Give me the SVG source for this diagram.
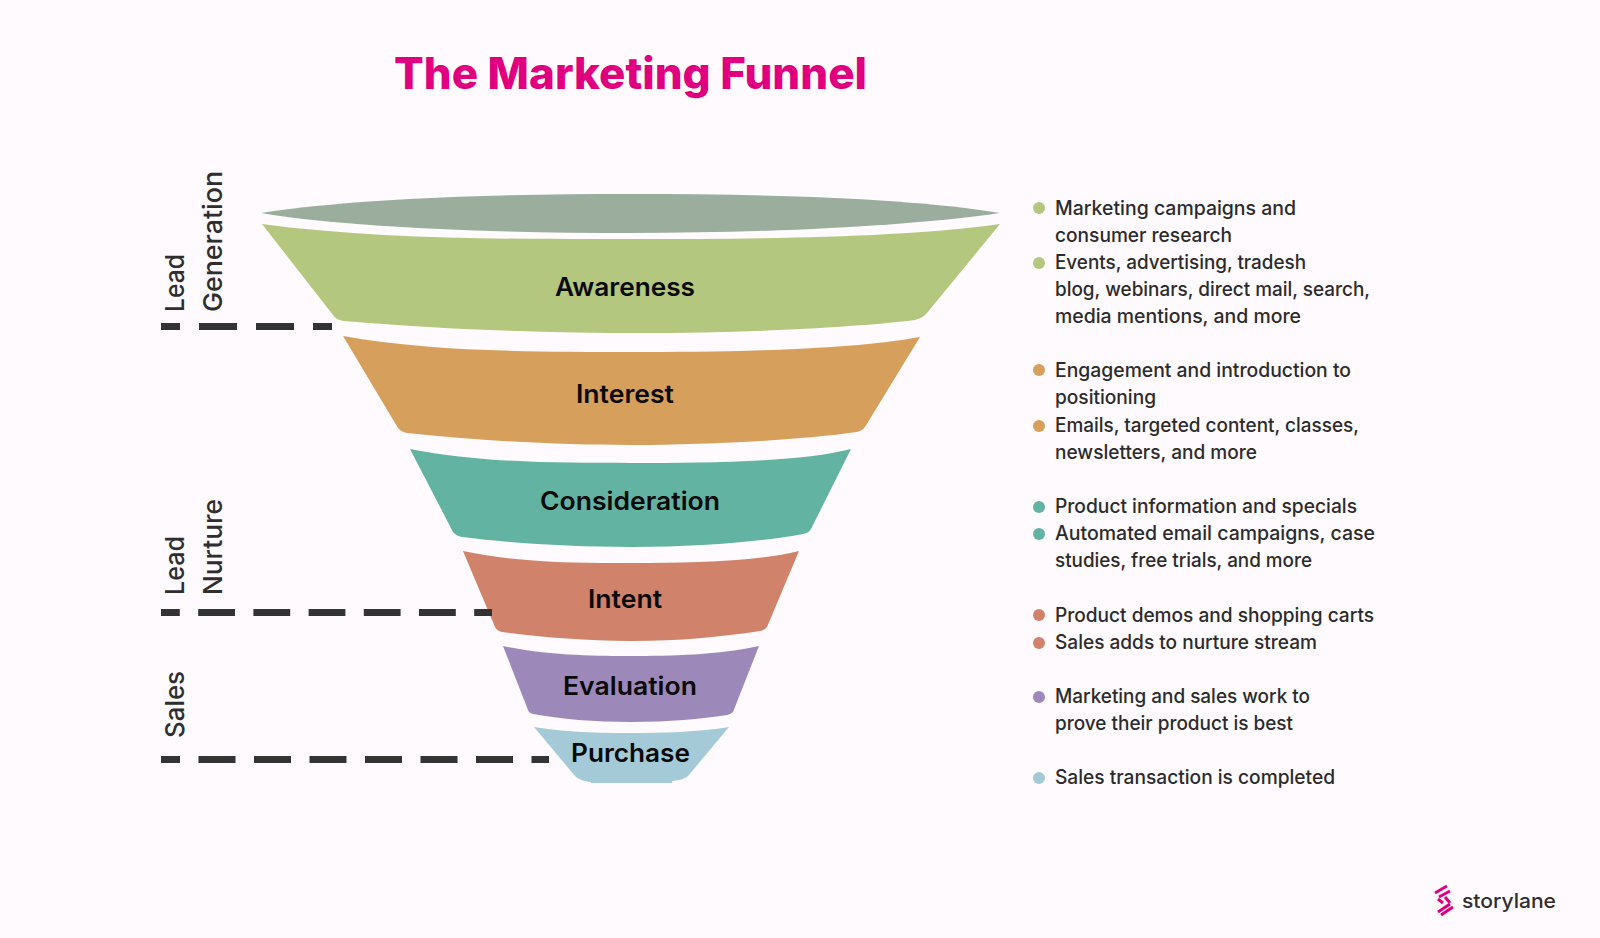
<svg xmlns="http://www.w3.org/2000/svg" width="1600" height="938" viewBox="0 0 1600 938">
<style>
text{font-family:"Inter","Noto Sans","Liberation Sans",sans-serif}
.stage{font-size:25px;font-weight:600;fill:#0a0a0a;text-anchor:start}
.side{font-size:26px;font-weight:500;fill:#2e2e2e}
.note{font-size:19.5px;font-weight:500;fill:#2b2b2b}
.dash{fill:none;stroke:#333;stroke-width:7}
.green{fill:#b3c77f}.orange{fill:#d69f5b}.teal{fill:#62b3a2}.salmon{fill:#d0826a}.purple{fill:#9c88b9}.blue{fill:#a3cad6}
.logo{fill:none;stroke:#e0007f;stroke-width:3}
</style>
<rect width="1600" height="938" fill="#fefafe"/>
<text id="title" x="394" y="89" font-size="44" font-weight="800" fill="#e0007f" textLength="473" lengthAdjust="spacingAndGlyphs">The Marketing Funnel</text>

<g id="funnel-rim"><path d="M261,213 C360,198 500,194 631,194 C770,194 910,198 1000,213 C910,226 770,233 631,233 C500,233 350,228 261,213 Z" fill="#9bad9d"/></g>

<g id="awareness"><path class="green" d="M262,224 C380,240 520,239 631,239 C760,239 900,238 1000,224 L927,313 Q923,318 915,320 C850,328 740,333 640,333 C550,333 450,330 344,321 Q336,320 333,315 Z"/>
<text class="stage" x="555" y="296" textLength="140" lengthAdjust="spacingAndGlyphs">Awareness</text></g>

<g id="interest"><path class="orange" d="M343,336 C430,352 540,352 631,352 C730,352 850,350 920,337 L865,427 Q862,431 857,432 C800,440 710,445 631,445 C560,445 480,441 407,433 Q401,432 398,428 Z"/>
<text class="stage" x="576" y="403" textLength="98" lengthAdjust="spacingAndGlyphs">Interest</text></g>

<g id="consideration"><path class="teal" d="M410,449 C480,463 560,463 631,463 C710,463 800,462 851,449 L811,529 Q809,533 803,534 C760,542 700,547 631,547 C570,547 510,543 462,537 Q456,536 453,532 Z"/>
<text class="stage" x="540" y="510" textLength="180" lengthAdjust="spacingAndGlyphs">Consideration</text></g>

<g id="intent"><path class="salmon" d="M463,551 C520,563 580,563 631,563 C690,563 755,562 799,551 L767,627 Q765,630 760,631 C720,637 680,641 631,641 C585,641 540,637 502,632 Q497,631 495,627 Z"/>
<text class="stage" x="588" y="608" textLength="74" lengthAdjust="spacingAndGlyphs">Intent</text></g>

<g id="evaluation"><path class="purple" d="M503,646 C550,656 600,656 631,656 C670,656 720,655 759,646 L733,712 Q731,714 727,715 C700,719 670,722 631,722 C595,722 560,719 533,714 Q529,713 528,710 Z"/>
<text class="stage" x="563" y="695" textLength="134" lengthAdjust="spacingAndGlyphs">Evaluation</text></g>

<g id="purchase"><path class="blue" d="M534,727 C570,733 610,733 631,733 C660,733 700,732 729,727 L688,776 Q684,780 672,781 L672,783 L591,783 L591,782 Q580,781 575,776 Z"/>
<text class="stage" x="571" y="762" textLength="119" lengthAdjust="spacingAndGlyphs">Purchase</text></g>

<g id="connectors">
<line class="dash" x1="161" y1="326.5" x2="332" y2="326.5" stroke-dasharray="38 19" stroke-dashoffset="19"/>
<line class="dash" x1="161" y1="612.5" x2="492" y2="612.5" stroke-dasharray="36.8 18.4" stroke-dashoffset="18"/>
<line class="dash" x1="161" y1="759.5" x2="549" y2="759.5" stroke-dasharray="37 18.5" stroke-dashoffset="18"/>
</g>

<g id="side-labels">
<text class="side" transform="translate(184 312) rotate(-90)" textLength="58" lengthAdjust="spacingAndGlyphs">Lead</text>
<text class="side" transform="translate(222 312) rotate(-90)" textLength="141" lengthAdjust="spacingAndGlyphs">Generation</text>
<text class="side" transform="translate(184 595) rotate(-90)" textLength="59" lengthAdjust="spacingAndGlyphs">Lead</text>
<text class="side" transform="translate(222 595) rotate(-90)" textLength="96" lengthAdjust="spacingAndGlyphs">Nurture</text>
<text class="side" transform="translate(184 738) rotate(-90)" textLength="67" lengthAdjust="spacingAndGlyphs">Sales</text>
</g>

<g id="notes-awareness">
<circle class="green" cx="1039" cy="208" r="6"/><circle class="green" cx="1039" cy="263" r="6"/>
<text class="note" x="1055" y="215" textLength="241" lengthAdjust="spacingAndGlyphs">Marketing campaigns and</text>
<text class="note" x="1055" y="242" textLength="177" lengthAdjust="spacingAndGlyphs">consumer research</text>
<text class="note" x="1055" y="269" textLength="251" lengthAdjust="spacingAndGlyphs">Events, advertising, tradesh</text>
<text class="note" x="1055" y="296" textLength="315" lengthAdjust="spacingAndGlyphs">blog, webinars, direct mail, search,</text>
<text class="note" x="1055" y="323" textLength="246" lengthAdjust="spacingAndGlyphs">media mentions, and more</text>
</g>
<g id="notes-interest">
<circle class="orange" cx="1039" cy="370" r="6"/><circle class="orange" cx="1039" cy="426" r="6"/>
<text class="note" x="1055" y="377" textLength="296" lengthAdjust="spacingAndGlyphs">Engagement and introduction to</text>
<text class="note" x="1055" y="404" textLength="101" lengthAdjust="spacingAndGlyphs">positioning</text>
<text class="note" x="1055" y="432" textLength="304" lengthAdjust="spacingAndGlyphs">Emails, targeted content, classes,</text>
<text class="note" x="1055" y="459" textLength="202" lengthAdjust="spacingAndGlyphs">newsletters, and more</text>
</g>
<g id="notes-consideration">
<circle class="teal" cx="1039" cy="507" r="6"/><circle class="teal" cx="1039" cy="534" r="6"/>
<text class="note" x="1055" y="513" textLength="302" lengthAdjust="spacingAndGlyphs">Product information and specials</text>
<text class="note" x="1055" y="540" textLength="320" lengthAdjust="spacingAndGlyphs">Automated email campaigns, case</text>
<text class="note" x="1055" y="567" textLength="257" lengthAdjust="spacingAndGlyphs">studies, free trials, and more</text>
</g>
<g id="notes-intent">
<circle class="salmon" cx="1039" cy="615" r="6"/><circle class="salmon" cx="1039" cy="643" r="6"/>
<text class="note" x="1055" y="622" textLength="319" lengthAdjust="spacingAndGlyphs">Product demos and shopping carts</text>
<text class="note" x="1055" y="649" textLength="262" lengthAdjust="spacingAndGlyphs">Sales adds to nurture stream</text>
</g>
<g id="notes-evaluation">
<circle class="purple" cx="1039" cy="697" r="6"/>
<text class="note" x="1055" y="703" textLength="255" lengthAdjust="spacingAndGlyphs">Marketing and sales work to</text>
<text class="note" x="1055" y="730" textLength="238" lengthAdjust="spacingAndGlyphs">prove their product is best</text>
</g>
<g id="notes-purchase">
<circle class="blue" cx="1039" cy="778" r="6"/>
<text class="note" x="1055" y="784" textLength="280" lengthAdjust="spacingAndGlyphs">Sales transaction is completed</text>
</g>

<g id="logo">
<path class="logo" d="M1435,893 L1447,886 M1439,897 L1450,891 M1438,899 L1443,903 M1445,897 L1450,903 M1438,912 L1450,904 M1441,915 L1453,907"/>
<text x="1462" y="908" font-size="20" font-weight="500" fill="#2e2e2e" textLength="94" lengthAdjust="spacingAndGlyphs">storylane</text>
</g>
</svg>
